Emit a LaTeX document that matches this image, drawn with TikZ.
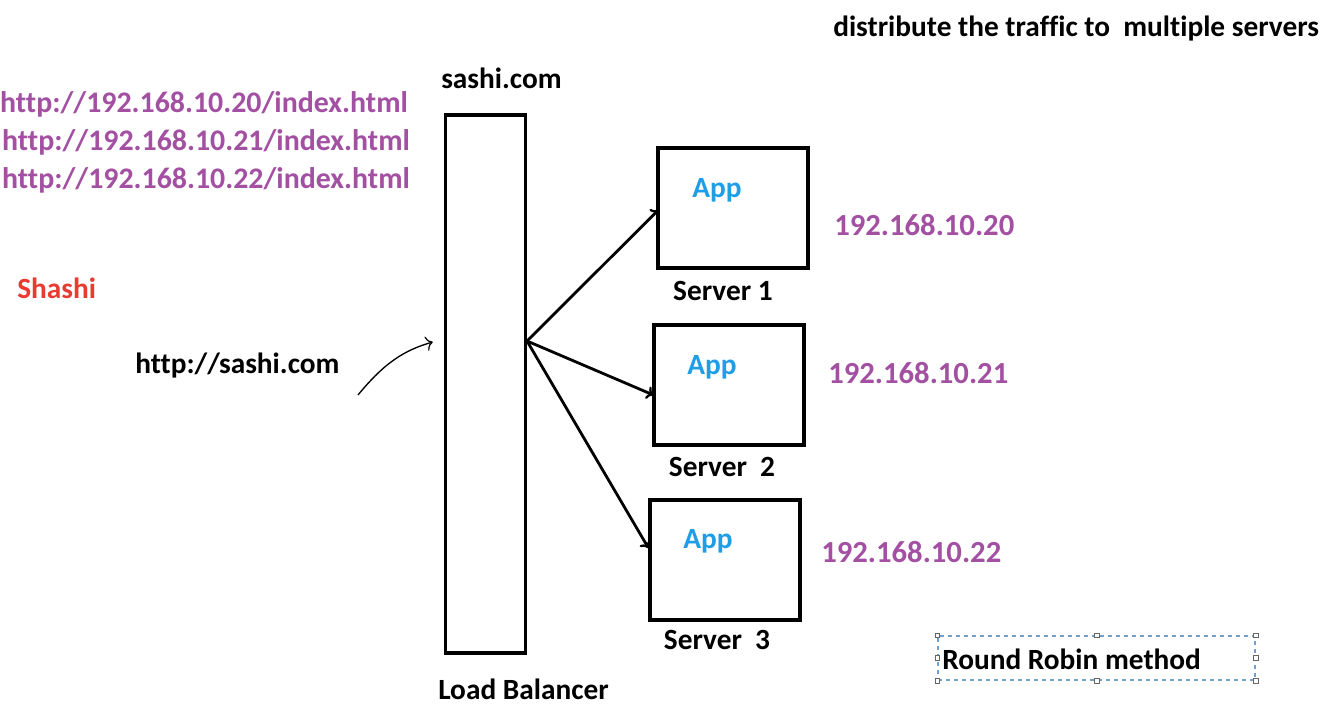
\documentclass[tikz,border=0pt]{standalone}
\usepackage{fontspec}
\setmainfont{Carlito}[Ligatures=NoCommon]
\usetikzlibrary{arrows.meta,calc}
\definecolor{urlpurple}{RGB}{163,80,163}
\definecolor{appblue}{RGB}{30,158,230}
\definecolor{namered}{RGB}{232,60,50}
\definecolor{selblue}{RGB}{110,160,210}
\tikzset{
  lbl/.style={inner sep=0pt, font=\fontsize{#1}{#1}\selectfont\bfseries},
  lbl/.default=22,
  box/.style={draw=black, line width=2.4pt, minimum width=112.5pt, minimum height=90pt, inner sep=0pt},
  link/.style={line width=2.1pt, -{To[length=5pt,width=10pt,line width=1.7pt]}},
  handle/.style={draw=gray!80!black, fill=white, line width=0.5pt, minimum size=3.5pt, inner sep=0pt},
}
\begin{document}
\begin{tikzpicture}[x=0.75pt,y=-0.75pt]
\useasboundingbox (0,0) rectangle (1337,710);
\fill[white] (0,0) rectangle (1337,710);

% title
\node[lbl, anchor=west] (title) at (833,29) {distribute the traffic to\ \ multiple servers};

% urls
\node[lbl=22.4, anchor=east, text=urlpurple] (u1) at (408,104) {http://192.168.10.20/index.html};
\node[lbl=22.4, anchor=east, text=urlpurple] (u2) at (410,142) {http://192.168.10.21/index.html};
\node[lbl=22.4, anchor=east, text=urlpurple] (u3) at (410,180) {http://192.168.10.22/index.html};

\node[lbl, anchor=west, text=namered] (shashi) at (17,288) {Shashi};
\node[lbl, anchor=west] (client) at (135,366) {http://sashi.com};

% load balancer
\node[draw=black, line width=2.6pt, minimum width=60pt, minimum height=403.5pt, inner sep=0pt] (lb) at (485.5,384) {};
\node[lbl, anchor=west] (lbtop) at (441,78) {sashi.com};
\node[lbl, anchor=west] (lbname) at (438,689) {Load Balancer};

% servers
\node[box] (s1) at (733,208) {};
\node[box] (s2) at (729,385) {};
\node[box] (s3) at (725,560) {};

\node[lbl, text=appblue] (a1) at (717,190) {App};
\node[lbl, text=appblue] (a2) at (712,367) {App};
\node[lbl, text=appblue] (a3) at (708,541) {App};

\node[lbl] (n1) at (723,291) {Server 1};
\node[lbl] (n2) at (722,467) {Server\ \ 2};
\node[lbl] (n3) at (717,640) {Server\ \ 3};

\node[lbl=23, anchor=west, text=urlpurple] (ip1) at (834,225) {192.168.10.20};
\node[lbl=23, anchor=west, text=urlpurple] (ip2) at (828,373) {192.168.10.21};
\node[lbl=23, anchor=west, text=urlpurple] (ip3) at (821,552) {192.168.10.22};

% connectors
\coordinate (hub) at (527,341);
\draw[link] (hub) -- ($(s1.west)+(2,2)$);
\draw[link] (hub) -- ($(s2.west)+(1,10)$);
\draw[link] (hub) -- ($(s3.west)+(0,-12)$);

\coordinate (cstart) at (358,395);
\coordinate (cend) at ($(lb.west)+(-11,-42)$);
\draw[line width=1pt, -{To[length=5pt,width=11pt,line width=0.9pt]}] (cstart) .. controls (385,362) and (405,350) .. (cend);

% round robin box
\node[draw=selblue, dashed, line width=0.8pt, minimum width=237.75pt, minimum height=33pt, inner sep=0pt] (rr) at (1096.5,658) {};
\node[lbl, anchor=west] (rrtext) at (942,659) {Round Robin method};
\foreach \a in {north west,north,north east,west,east,south west,south,south east}
  \node[handle] at (rr.\a) {};
\end{tikzpicture}
\end{document}
